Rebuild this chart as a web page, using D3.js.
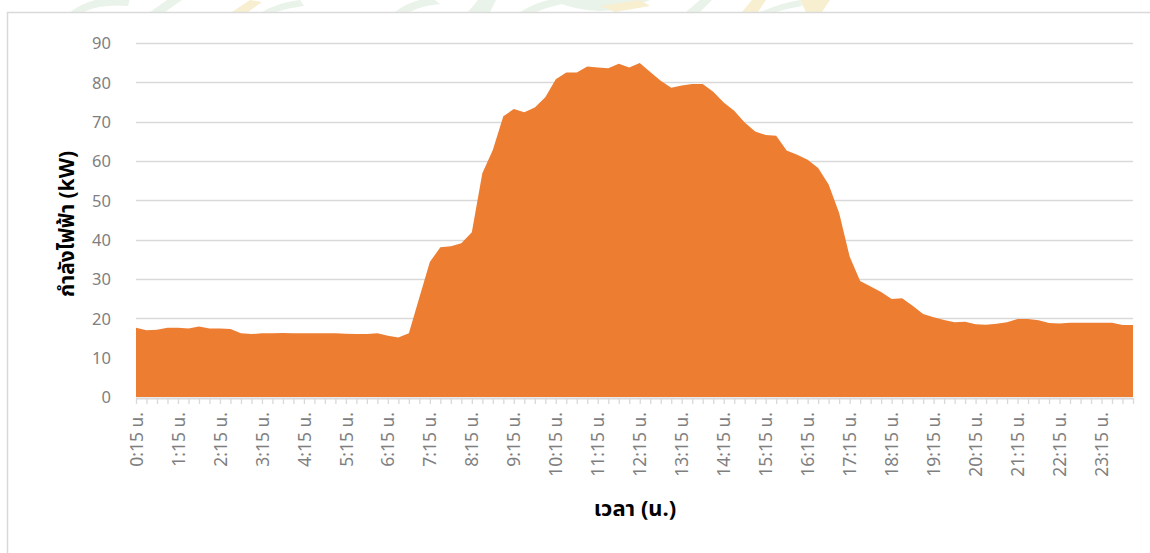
<!DOCTYPE html>
<html>
<head>
<meta charset="utf-8">
<script src="https://cdn.jsdelivr.net/npm/d3@7"></script>
<style>
  html, body { margin: 0; padding: 0; background: #ffffff; }
  svg { display: block; }
  text { font-family: "Noto Sans Thai", "Noto Sans", "Leelawadee UI", Tahoma, sans-serif; }
</style>
</head>
<body>
<svg id="chart" width="1150" height="553"></svg>
<script>
// 15-minute readings of electric power over one day
const categories = [
  "0:15 น.","0:30 น.","0:45 น.","1:00 น.","1:15 น.","1:30 น.","1:45 น.","2:00 น.",
  "2:15 น.","2:30 น.","2:45 น.","3:00 น.","3:15 น.","3:30 น.","3:45 น.","4:00 น.",
  "4:15 น.","4:30 น.","4:45 น.","5:00 น.","5:15 น.","5:30 น.","5:45 น.","6:00 น.",
  "6:15 น.","6:30 น.","6:45 น.","7:00 น.","7:15 น.","7:30 น.","7:45 น.","8:00 น.",
  "8:15 น.","8:30 น.","8:45 น.","9:00 น.","9:15 น.","9:30 น.","9:45 น.","10:00 น.",
  "10:15 น.","10:30 น.","10:45 น.","11:00 น.","11:15 น.","11:30 น.","11:45 น.","12:00 น.",
  "12:15 น.","12:30 น.","12:45 น.","13:00 น.","13:15 น.","13:30 น.","13:45 น.","14:00 น.",
  "14:15 น.","14:30 น.","14:45 น.","15:00 น.","15:15 น.","15:30 น.","15:45 น.","16:00 น.",
  "16:15 น.","16:30 น.","16:45 น.","17:00 น.","17:15 น.","17:30 น.","17:45 น.","18:00 น.",
  "18:15 น.","18:30 น.","18:45 น.","19:00 น.","19:15 น.","19:30 น.","19:45 น.","20:00 น.",
  "20:15 น.","20:30 น.","20:45 น.","21:00 น.","21:15 น.","21:30 น.","21:45 น.","22:00 น.",
  "22:15 น.","22:30 น.","22:45 น.","23:00 น.","23:15 น.","23:30 น.","23:45 น.","24:00 น."
];

const powerKW = [
  17.6, 17.0, 17.1, 17.6, 17.6, 17.4, 17.9, 17.4,
  17.4, 17.3, 16.2, 16.0, 16.2, 16.2, 16.3, 16.2,
  16.2, 16.2, 16.2, 16.2, 16.1, 16.0, 16.0, 16.2,
  15.6, 15.1, 16.2, 25.3, 34.3, 38.1, 38.3, 39.1,
  41.9, 56.9, 62.8, 71.4, 73.2, 72.4, 73.6, 76.2,
  80.8, 82.5, 82.5, 84.0, 83.8, 83.6, 84.7, 83.8,
  84.9, 82.6, 80.4, 78.6, 79.2, 79.6, 79.6, 77.6,
  74.9, 72.8, 69.8, 67.5, 66.6, 66.4, 62.7, 61.6,
  60.3, 58.2, 54.0, 46.8, 35.7, 29.5, 28.1, 26.7,
  24.9, 25.1, 23.2, 21.1, 20.3, 19.6, 19.0, 19.1,
  18.5, 18.4, 18.6, 19.0, 19.8, 19.8, 19.5, 18.8,
  18.7, 18.9, 18.9, 18.9, 18.9, 18.9, 18.3, 18.3
];

const tickLabels = [
  "0:15 น.","1:15 น.","2:15 น.","3:15 น.","4:15 น.","5:15 น.","6:15 น.","7:15 น.",
  "8:15 น.","9:15 น.","10:15 น.","11:15 น.","12:15 น.","13:15 น.","14:15 น.","15:15 น.",
  "16:15 น.","17:15 น.","18:15 น.","19:15 น.","20:15 น.","21:15 น.","22:15 น.","23:15 น."
];

const yTicks = [0, 10, 20, 30, 40, 50, 60, 70, 80, 90];
const yTitle = "กำลังไฟฟ้า (kW)";
const xTitle = "เวลา (น.)";

const svg = d3.select("#chart");

// faint emblem peeking out above the chart frame
const emblem = svg.append("g").attr("opacity", 0.45);
const emblemShapes = [
  { d: "M70,12 Q95,-6 130,-2 L128,6 Q100,4 84,12 Z", c: "#cfe5cf" },
  { d: "M150,12 L170,-2 L182,0 L165,12 Z", c: "#cfe5cf" },
  { d: "M232,12 L250,0 L262,2 L248,12 Z", c: "#f1dc98" },
  { d: "M262,12 Q280,2 300,0 L304,6 Q288,8 276,12 Z", c: "#cfe5cf" },
  { d: "M395,12 Q410,0 432,-2 L440,4 Q420,6 410,12 Z", c: "#cfe5cf" },
  { d: "M468,12 L478,0 L496,0 L490,12 Z", c: "#cfe5cf" },
  { d: "M520,12 Q540,0 560,-2 L562,4 Q545,8 536,12 Z", c: "#cfe5cf" },
  { d: "M552,0 Q600,22 650,0 Z", c: "#cfe5cf" },
  { d: "M600,6 L640,0 L650,6 L615,12 Z", c: "#f1dc98" },
  { d: "M686,12 L700,0 L712,0 L700,12 Z", c: "#cfe5cf" },
  { d: "M742,12 L752,0 L766,0 L758,12 Z", c: "#f1dc98" },
  { d: "M800,0 L830,0 L822,12 L806,12 Z", c: "#f1dc98" },
  { d: "M760,12 Q785,2 800,0 L802,6 Q790,8 776,12 Z", c: "#cfe5cf" }
];
emblem.selectAll("path").data(emblemShapes).join("path")
  .attr("d", d => d.d).attr("fill", d => d.c);

// chart frame
svg.append("rect")
  .attr("x", 7.5).attr("y", 12.5)
  .attr("width", 1160).attr("height", 560)
  .attr("fill", "#ffffff")
  .attr("stroke", "#d9d9d9").attr("stroke-width", 1.5);

const plot = { left: 136, right: 1133, top: 43, bottom: 397 };

const x = d3.scalePoint()
  .domain(categories)
  .range([plot.left, plot.right]);

const y = d3.scaleLinear()
  .domain([0, 90])
  .range([plot.bottom, plot.top]);

// horizontal gridlines
svg.append("g")
  .selectAll("line")
  .data(yTicks.filter(v => v > 0))
  .join("line")
  .attr("x1", plot.left).attr("x2", plot.right)
  .attr("y1", d => Math.round(y(d)) + 0.5).attr("y2", d => Math.round(y(d)) + 0.5)
  .attr("stroke", "#d9d9d9").attr("stroke-width", 1.3);

// y-axis labels
const yAxis = d3.axisLeft(y).tickValues(yTicks).tickSize(0).tickPadding(0);
svg.append("g")
  .attr("transform", `translate(${plot.left - 25},0)`)
  .call(yAxis)
  .call(g => g.select(".domain").remove())
  .call(g => g.selectAll("text")
    .attr("fill", "#7f7f7f")
    .style("font-size", "16.5px")
    .attr("dy", "0.35em"));

// area
const area = d3.area()
  .x((d, i) => x(categories[i]))
  .y0(y(0))
  .y1(d => y(d));

svg.append("path")
  .datum(powerKW)
  .attr("d", area)
  .attr("fill", "#ED7D31");

// category axis: a mark at every reading, a label every hour
const xMarks = d3.axisBottom(x).tickSize(6).tickFormat("");
svg.append("g")
  .attr("transform", `translate(0,${plot.bottom + 1})`)
  .call(xMarks)
  .call(g => g.select(".domain")
    .attr("d", `M${plot.left},0.5H${plot.right}`)
    .attr("stroke", "#d9d9d9").attr("stroke-width", 2))
  .call(g => g.selectAll(".tick line").attr("stroke", "#d9d9d9").attr("stroke-width", 1.3));

const xLabels = d3.axisBottom(x).tickValues(tickLabels).tickSize(0).tickPadding(0);
svg.append("g")
  .attr("transform", `translate(0,${plot.bottom + 15})`)
  .call(xLabels)
  .call(g => g.select(".domain").remove())
  .call(g => g.selectAll("text")
    .attr("fill", "#7f7f7f")
    .style("font-size", "17.5px")
    .attr("text-anchor", "end")
    .attr("transform", "rotate(-90)")
    .attr("x", 0)
    .attr("y", 0)
    .attr("dx", "0")
    .attr("dy", "0.35em"));

// axis titles
svg.append("text")
  .attr("transform", `translate(67,224) rotate(-90)`)
  .attr("text-anchor", "middle")
  .attr("dy", "0.35em")
  .attr("fill", "#000000")
  .style("font-size", "21px")
  .style("font-weight", "bold")
  .text(yTitle);

svg.append("text")
  .attr("x", 635).attr("y", 508)
  .attr("text-anchor", "middle")
  .attr("dy", "0.35em")
  .attr("fill", "#000000")
  .style("font-size", "22px")
  .style("font-weight", "bold")
  .text(xTitle);
</script>
</body>
</html>
